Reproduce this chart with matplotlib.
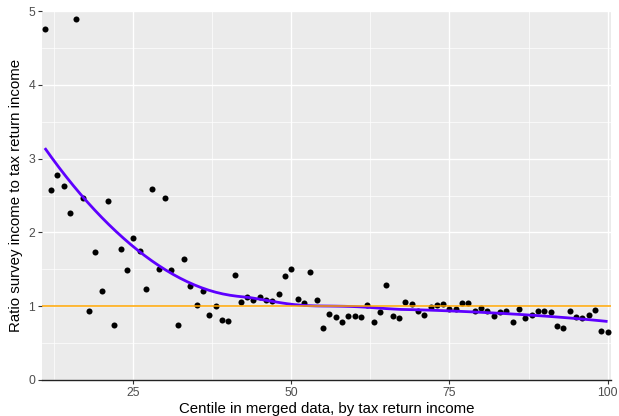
import matplotlib
matplotlib.use("Agg")
import matplotlib.pyplot as plt
import numpy as np

plt.rcParams['font.family'] = ['Liberation Sans', 'DejaVu Sans']

# centile 11..100 in merged data
centile = list(range(11, 101))
ratio = [
    4.76, 2.57, 2.78, 2.63, 2.26, 4.89, 2.47, 0.93, 1.74, 1.21,   # 11-20
    2.43, 0.745, 1.78, 1.49, 1.93, 1.75, 1.23, 2.59, 1.51, 2.46,  # 21-30
    1.49, 0.74, 1.64, 1.27, 1.02, 1.21, 0.885, 1.00, 0.81, 0.80,  # 31-40
    1.42, 1.06, 1.12, 1.08, 1.12, 1.08, 1.07, 1.16, 1.41, 1.50,   # 41-50
    1.10, 1.05, 1.47, 1.09, 0.71, 0.89, 0.86, 0.78, 0.87, 0.87,   # 51-60
    0.85, 1.01, 0.78, 0.92, 1.29, 0.87, 0.84, 1.06, 1.03, 0.935,  # 61-70
    0.88, 0.99, 1.02, 1.03, 0.96, 0.96, 1.05, 1.05, 0.935, 0.97,  # 71-80
    0.935, 0.87, 0.92, 0.93, 0.79, 0.96, 0.84, 0.88, 0.935, 0.94, # 81-90
    0.92, 0.73, 0.71, 0.94, 0.85, 0.84, 0.88, 0.95, 0.67, 0.655,  # 91-100
]

x_ticks = [25, 50, 75, 100]
y_ticks = [0, 1, 2, 3, 4, 5]


def loess(x, y, x_new, span=0.75):
    # local quadratic fit with tricube weights (like R's loess default)
    x = np.asarray(x, float)
    y = np.asarray(y, float)
    q = int(np.floor(len(x) * span))
    out = []
    for x0 in x_new:
        d = np.abs(x - x0)
        h = np.sort(d)[q - 1]
        w = np.clip(1 - (d / h) ** 3, 0, None) ** 3
        X = np.column_stack([np.ones_like(x), x - x0, (x - x0) ** 2])
        W = np.sqrt(w)
        beta = np.linalg.lstsq(X * W[:, None], y * W, rcond=None)[0]
        out.append(beta[0])
    return np.array(out)


xs = np.linspace(min(centile), max(centile), 80)
ys = loess(centile, ratio, xs)

fig = plt.figure(figsize=(6.19, 4.16), dpi=100)
ax = fig.add_axes([42 / 619, 1 - 380 / 416, (610.7 - 42) / 619, (380 - 11) / 416])
ax.set_facecolor('#EBEBEB')

ax.scatter(centile, ratio, s=19, color='black', zorder=3, linewidths=0)
ax.plot(xs, ys, color='#5E00FF', linewidth=2.0, zorder=4, solid_capstyle='butt')
ax.axhline(1, color='#FFA500', linewidth=1.1, zorder=5)

ax.set_xlim(10.55, 100.5)
ax.set_ylim(0, 5)
ax.set_xticks(x_ticks)
ax.set_yticks(y_ticks)
ax.set_xticks([12.5, 37.5, 62.5, 87.5], minor=True)
ax.set_yticks([0.5, 1.5, 2.5, 3.5, 4.5], minor=True)
ax.grid(True, which='major', color='white', linewidth=1.0)
ax.grid(True, which='minor', color='white', linewidth=0.5)
ax.set_axisbelow(True)

for side in ['top', 'right', 'left']:
    ax.spines[side].set_visible(False)
ax.spines['bottom'].set_color('#222222')
ax.spines['bottom'].set_linewidth(1.0)

ax.tick_params(which='major', length=3, width=0.8, color='#333333',
               labelcolor='#4D4D4D', labelsize=8.8, pad=2)
ax.tick_params(which='minor', length=0)

ax.set_xlabel('Centile in merged data, by tax return income', fontsize=10.8, labelpad=2)
ax.set_ylabel('Ratio survey income to tax return income', fontsize=10.8, labelpad=4)

fig.savefig('out.png', dpi=100)
